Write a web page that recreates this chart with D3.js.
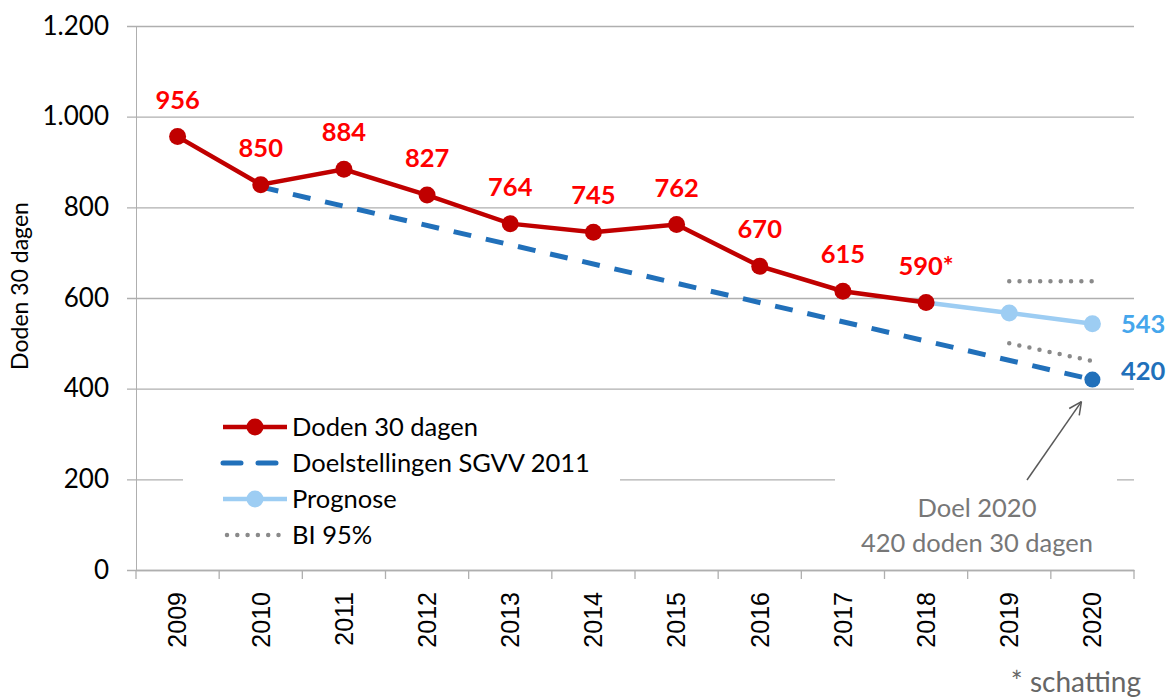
<!DOCTYPE html>
<html>
<head>
<meta charset="utf-8">
<script src="https://cdn.jsdelivr.net/npm/d3@7"></script>
<style>
  body { margin: 0; background: #fff; }
  svg { display: block; font-family: Lato, 'Open Sans', sans-serif; }
</style>
</head>
<body>
<div id="chart"></div>
<script>
const years = ['2009', '2010', '2011', '2012', '2013', '2014', '2015', '2016', '2017', '2018', '2019', '2020'];
const yTicks = [0, 200, 400, 600, 800, 1000, 1200];

const dodenYears = ['2009', '2010', '2011', '2012', '2013', '2014', '2015', '2016', '2017', '2018'];
const dodenValues = [956, 850, 884, 827, 764, 745, 762, 670, 615, 590];
const dodenLabels = ['956', '850', '884', '827', '764', '745', '762', '670', '615', '590*'];

const doelYears = ['2010', '2020'];
const doelValues = [845, 420];

const prognoseYears = ['2018', '2019', '2020'];
const prognoseValues = [590, 567, 543];

const biYears = ['2019', '2020'];
const biUpper = [637, 637];
const biLower = [500, 461];

const legendItems = ['Doden 30 dagen', 'Doelstellingen SGVV 2011', 'Prognose', 'BI 95%'];

const W = 1168, H = 698;
const red = '#C00000', redLabel = '#FF0000';
const blue = '#2170BA', light = '#9DCDF3', lightLabel = '#45A6EC';
const grid = '#AFAFAF', gray = '#777';

const svg = d3.select('#chart').append('svg').attr('width', W).attr('height', H);

const x = d3.scaleBand().domain(years).range([136, 1134]);
const cx = d => x(d) + x.bandwidth() / 2;
const y = d3.scaleLinear().domain([0, 1200]).range([570, 26]);

// Gridlines + y axis
const yAxis = d3.axisLeft(y).tickValues(yTicks).tickSize(0).tickPadding(0)
  .tickFormat(d => d3.format(',')(d).replace(/,/g, '.'));
const gy = svg.append('g').attr('transform', 'translate(136,0)').call(yAxis);
gy.select('.domain').attr('stroke', grid);
gy.selectAll('.tick line').remove();
gy.selectAll('.tick').append('line')
  .attr('x1', -9).attr('x2', 998).attr('stroke', grid).attr('stroke-width', 1.3);
gy.selectAll('.tick text')
  .attr('x', -27).attr('font-size', 26).attr('fill', '#000')
  .attr('font-family', 'Lato, sans-serif');

// x axis
const gx = svg.append('g').attr('transform', 'translate(0,570)')
  .call(d3.axisBottom(x).tickSize(0).tickFormat(d => d));
gx.select('.domain').attr('stroke', grid).attr('stroke-width', 1.3);
gx.selectAll('.tick text')
  .attr('transform', 'rotate(-90)')
  .attr('text-anchor', 'end')
  .attr('x', -22).attr('y', 0).attr('dy', '0.35em')
  .attr('font-size', 25).attr('fill', '#000')
  .attr('font-family', '"Liberation Sans", Arial, sans-serif');
const bounds = years.map(d => x(d)).concat([x(years[years.length - 1]) + x.bandwidth()]);
gx.selectAll('.bound').data(bounds).join('line')
  .attr('x1', d => d).attr('x2', d => d).attr('y1', 0).attr('y2', 9)
  .attr('stroke', grid).attr('stroke-width', 1.3);

// y title
svg.append('text')
  .attr('transform', `translate(22,${(26 + 570) / 2 - 12}) rotate(-90)`)
  .attr('text-anchor', 'middle').attr('dominant-baseline', 'middle')
  .attr('font-size', 23).attr('fill', '#000')
  .text('Doden 30 dagen');

const line = d3.line();

// Doelstellingen (dashed)
svg.append('path')
  .attr('d', line(doelYears.map((d, i) => [cx(d), y(doelValues[i])])))
  .attr('fill', 'none').attr('stroke', blue).attr('stroke-width', 5)
  .attr('stroke-dasharray', '18 15');
svg.append('circle')
  .attr('cx', cx(doelYears[1])).attr('cy', y(doelValues[1])).attr('r', 8)
  .attr('fill', blue);

// BI 95%
[biUpper, biLower].forEach(vals => {
  svg.append('path')
    .attr('d', line(biYears.map((d, i) => [cx(d), y(vals[i])])))
    .attr('fill', 'none').attr('stroke', '#8A8A8A').attr('stroke-width', 4.5)
    .attr('stroke-linecap', 'round').attr('stroke-dasharray', '0 10.3');
});

// Prognose
svg.append('path')
  .attr('d', line(prognoseYears.map((d, i) => [cx(d), y(prognoseValues[i])])))
  .attr('fill', 'none').attr('stroke', light).attr('stroke-width', 4.5);
svg.selectAll('.prog').data(prognoseYears.slice(1)).join('circle')
  .attr('cx', d => cx(d)).attr('cy', (d, i) => y(prognoseValues[i + 1])).attr('r', 8.5)
  .attr('fill', light);

// Doden 30 dagen
svg.append('path')
  .attr('d', line(dodenYears.map((d, i) => [cx(d), y(dodenValues[i])])))
  .attr('fill', 'none').attr('stroke', red).attr('stroke-width', 4.5);
svg.selectAll('.dod').data(dodenYears).join('circle')
  .attr('cx', d => cx(d)).attr('cy', (d, i) => y(dodenValues[i])).attr('r', 8.5)
  .attr('fill', red);
svg.selectAll('.dodlab').data(dodenYears).join('text')
  .attr('x', d => cx(d)).attr('y', (d, i) => y(dodenValues[i]) - 28)
  .attr('text-anchor', 'middle').attr('font-size', 25.5).attr('font-weight', 'bold')
  .attr('fill', redLabel)
  .text((d, i) => dodenLabels[i]);

// end labels
svg.append('text')
  .attr('x', 1121).attr('y', y(prognoseValues[2]) + 3)
  .attr('dominant-baseline', 'middle').attr('font-size', 25.5).attr('font-weight', 'bold')
  .attr('fill', lightLabel).text(prognoseValues[2]);
svg.append('text')
  .attr('x', 1121).attr('y', y(doelValues[1]) - 6)
  .attr('dominant-baseline', 'middle').attr('font-size', 25.5).attr('font-weight', 'bold')
  .attr('fill', blue).text(doelValues[1]);

// Legend
const lg = svg.append('g').attr('transform', 'translate(183,408)');
lg.append('rect').attr('width', 437).attr('height', 148).attr('fill', '#fff');
const rowY = i => 19 + i * 36;
legendItems.forEach((t, i) => {
  const row = lg.append('g').attr('transform', `translate(0,${rowY(i)})`);
  const sym = row.append('line').attr('x1', 40).attr('x2', 104).attr('y1', 0).attr('y2', 0);
  if (i === 0) {
    sym.attr('stroke', red).attr('stroke-width', 4.5);
    row.append('circle').attr('cx', 72).attr('r', 8.5).attr('fill', red);
  } else if (i === 1) {
    sym.attr('stroke', blue).attr('stroke-width', 5).attr('stroke-dasharray', '18 17')
      .attr('x2', 100).attr('stroke-linecap', 'round');
  } else if (i === 2) {
    sym.attr('stroke', light).attr('stroke-width', 4.5);
    row.append('circle').attr('cx', 72).attr('r', 8.5).attr('fill', light);
  } else {
    sym.attr('stroke', '#8A8A8A').attr('stroke-width', 4.5).attr('stroke-linecap', 'round')
      .attr('stroke-dasharray', '0 10.3').attr('x1', 44).attr('x2', 96);
  }
  row.append('text').attr('x', 109).attr('dy', '0.35em')
    .attr('font-size', 25.5).attr('fill', '#000').text(t);
});

// Annotation
svg.append('rect').attr('x', 835).attr('y', 470).attr('width', 282).attr('height', 90).attr('fill', '#fff');
svg.append('text').attr('x', 977).attr('y', 517).attr('text-anchor', 'middle')
  .attr('font-size', 25.5).attr('fill', gray).text('Doel 2020');
svg.append('text').attr('x', 977).attr('y', 552).attr('text-anchor', 'middle')
  .attr('font-size', 25.5).attr('fill', gray).text('420 doden 30 dagen');
const ax0 = [1027, 480], ax1 = [cx('2020') - 11, y(doelValues[1]) + 22];
svg.append('line').attr('x1', ax0[0]).attr('y1', ax0[1]).attr('x2', ax1[0]).attr('y2', ax1[1])
  .attr('stroke', '#595959').attr('stroke-width', 1.5);
const ang = Math.atan2(ax1[1] - ax0[1], ax1[0] - ax0[0]);
[-0.45, 0.45].forEach(a => {
  svg.append('line').attr('x1', ax1[0]).attr('y1', ax1[1])
    .attr('x2', ax1[0] - 14 * Math.cos(ang + a)).attr('y2', ax1[1] - 14 * Math.sin(ang + a))
    .attr('stroke', '#595959').attr('stroke-width', 1.5);
});

svg.append('text').attr('x', 1141).attr('y', 692).attr('text-anchor', 'end')
  .attr('font-size', 28).attr('fill', '#666').text('* schatting');
</script>
</body>
</html>
